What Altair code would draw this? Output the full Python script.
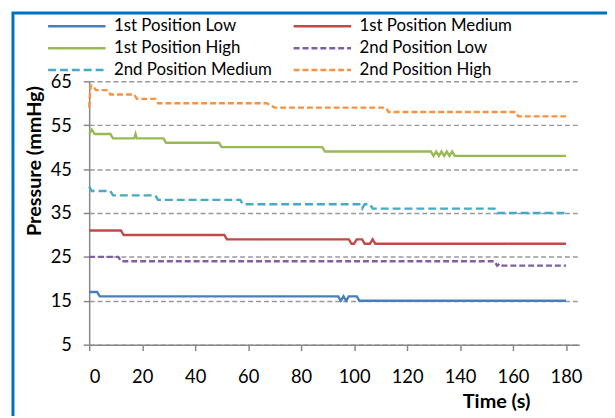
import altair as alt
import pandas as pd

# legend is laid out column by column, so this order gives the reference's rows
series_names = ["1st Position Low", "1st Position High", "2nd Position Medium",
                "1st Position Medium", "2nd Position Low", "2nd Position High"]
colors = ["#4A7EBB", "#98B954", "#46AAC5", "#BE4B48", "#7D60A0", "#F69240"]
dashes = [[1, 0], [1, 0], [8, 4], [1, 0], [6, 3], [6, 3]]

# 1st Position Low
low1_t = [0, 3, 4, 94, 95, 96, 97, 98, 101, 102, 180]
low1_p = [17, 17, 16, 16, 15, 16, 15, 16, 16, 15, 15]
# 1st Position Medium
med1_t = [0, 12, 13, 51, 52, 98, 99, 100, 101, 103, 104, 106, 107, 108, 180]
med1_p = [31, 31, 30, 30, 29, 29, 28, 28, 29, 29, 28, 28, 29, 28, 28]
# 1st Position High
high1_t = [0, 1, 2, 8, 9, 17, 17.5, 18, 28, 29, 49, 50, 88, 89, 129, 130, 131,
           132, 133, 134, 135, 136, 137, 138, 180]
high1_p = [53, 54, 53, 53, 52, 52, 53, 52, 52, 51, 51, 50, 50, 49, 49, 48, 49,
           48, 49, 48, 49, 48, 49, 48, 48]
# 2nd Position Low
low2_t = [0, 11, 12, 153, 154, 155, 156, 180]
low2_p = [25, 25, 24, 24, 23, 23.5, 23, 23]
# 2nd Position Medium
med2_t = [0, 1, 8, 9, 25, 26, 57, 58, 102, 103, 104, 106, 107, 153, 154, 180]
med2_p = [41, 40, 40, 39, 39, 38, 38, 37, 37, 36, 37, 37, 36, 36, 35, 35]
# 2nd Position High
high2_t = [0, 0.5, 1.5, 2.5, 7, 8, 17, 18, 25, 26, 67, 70, 112, 113, 161, 162, 180]
high2_p = [59, 64, 64, 63, 63, 62, 62, 61, 61, 60, 60, 59, 59, 58, 58, 57, 57]

series_data = {
    "1st Position Low": (low1_t, low1_p),
    "1st Position Medium": (med1_t, med1_p),
    "1st Position High": (high1_t, high1_p),
    "2nd Position Low": (low2_t, low2_p),
    "2nd Position Medium": (med2_t, med2_p),
    "2nd Position High": (high2_t, high2_p),
}

rows = []
for name, (ts, ps) in series_data.items():
    for i, (t, p) in enumerate(zip(ts, ps)):
        rows.append({"series": name, "t": t, "p": p, "i": i})
df = pd.DataFrame(rows)

FONT = "Lato"

legend = alt.Legend(
    title=None, orient="none", legendX=-43, legendY=-64.5, columns=2,
    symbolType="stroke", symbolSize=3364, symbolStrokeWidth=2.5,
    clipHeight=18,
    labelFont=FONT, labelFontSize=17, labelColor="#000000",
    labelOffset=7, columnPadding=20, rowPadding=4, labelLimit=300,
)

lines = alt.Chart(df).mark_line(strokeWidth=2.4).encode(
    x=alt.X("t:Q", scale=alt.Scale(domain=[0, 185], nice=False, zero=False),
            axis=alt.Axis(values=list(range(0, 181, 20)), title="Time (s)",
                          grid=False, titleX=411, titleY=57,
                          titleBaseline="middle", titleAlign="center",
                          labelPadding=17)),
    y=alt.Y("p:Q", scale=alt.Scale(domain=[5, 65], nice=False, zero=False),
            axis=alt.Axis(values=list(range(5, 66, 10)), title="Pressure (mmHg)",
                          grid=True, gridDash=[5, 3], gridColor="#999999",
                          gridWidth=1.5, titleX=-55, titleY=80,
                          titleBaseline="middle", titleAlign="center",
                          labelPadding=12)),
    color=alt.Color("series:N", scale=alt.Scale(domain=series_names, range=colors),
                    legend=legend),
    strokeDash=alt.StrokeDash("series:N",
                              scale=alt.Scale(domain=series_names, range=dashes),
                              legend=legend),
    order="i:Q",
)

frame = alt.Chart(pd.DataFrame({"a": [0]})).mark_rect(
    fill="transparent", stroke="#0070C0", strokeWidth=3, clip=False
).encode(
    x=alt.value(-77), x2=alt.value(560), y=alt.value(-69), y2=alt.value(400)
)

chart = alt.layer(frame, lines).properties(
    width=495, height=266,
    autosize=alt.AutoSizeParams(type="none"),
    padding={"top": 72, "left": 82, "bottom": 70, "right": 28},
    background="white",
).configure_view(stroke=None).configure_axis(
    domainColor="#888888", domainWidth=1.5, tickColor="#888888", tickWidth=1.5,
    tickSize=6, labelFont=FONT, labelFontSize=18.5, labelColor="#000000",
    titleFont=FONT, titleFontSize=20, titleFontWeight="bold", titleColor="#000000",
)

chart.save("out.html", embed_options={"renderer": "svg", "actions": False})
